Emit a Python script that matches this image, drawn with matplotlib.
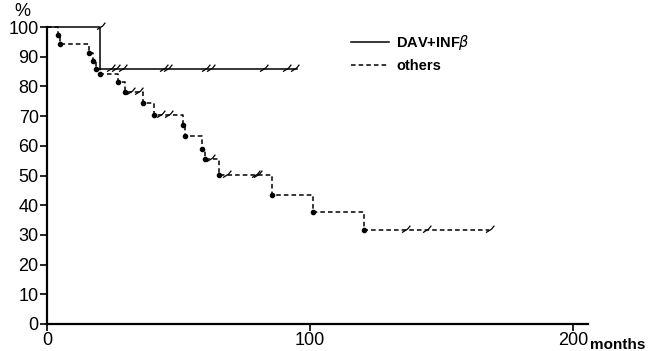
import matplotlib
matplotlib.use("Agg")
import matplotlib.pyplot as plt
from matplotlib.path import Path
from matplotlib.lines import Line2D
import numpy as np

plt.rcParams['font.family'] = ['Liberation Sans', 'DejaVu Sans']

# DAV+INFbeta group
dav_event_t = [20]
dav_event_s = [85.7]
dav_end = 95
dav_cens_t = [20, 24, 26, 28.5, 44, 45.5, 60, 62, 82, 91, 94]

# others group
oth_event_t = [4, 5, 16, 17.5, 18.6, 20, 27, 29.6, 36.5, 40.7, 51.7, 52.5,
               59, 60, 65.4, 85.5, 101, 120.5]
oth_event_s = [97.3, 94.3, 91.4, 88.6, 85.7, 84.3, 81.4, 78.1, 74.4, 70.4,
               66.9, 63.2, 59.0, 55.4, 50.3, 43.6, 37.8, 31.5]
oth_end = 168
oth_cens_t = [31.5, 34.6, 43, 46, 62, 68, 79, 80, 136, 144, 168]

yticks = [0, 10, 20, 30, 40, 50, 60, 70, 80, 90, 100]
xticks = [0, 100, 200]


def step_xy(ev_t, ev_s, end):
    xs = [0] + list(ev_t) + [end]
    ys = [100] + list(ev_s) + [ev_s[-1]]
    return xs, ys


def surv_at(t, ev_t, ev_s):
    s = 100
    for tt, ss in zip(ev_t, ev_s):
        if t > tt:
            s = ss
    return s


tick_marker = Path([(-0.5, -0.3), (0.3, 0.2), (0.7, 0.7)],
                   [Path.MOVETO, Path.LINETO, Path.LINETO])

fig = plt.figure(figsize=(6.53, 3.51), dpi=100)
ax = fig.add_axes([47 / 653, 27 / 351, 541 / 653, 297 / 351])

# solid curve
x, y = step_xy(dav_event_t, dav_event_s, dav_end)
ax.step(x, y, where='post', color='black', lw=1.1, clip_on=False)
cs = [surv_at(t, dav_event_t, dav_event_s) if t != 20 else 100 for t in dav_cens_t]
ax.plot(dav_cens_t, cs, ls='none', marker=tick_marker, ms=7, mew=0.9,
        mec='black', mfc='none', clip_on=False)

# dashed curve
x, y = step_xy(oth_event_t, oth_event_s, oth_end)
ax.step(x, y, where='post', color='black', lw=1.1, ls=(0, (3, 2)), clip_on=False)
ax.plot(oth_event_t, oth_event_s, ls='none', marker='o', ms=3, color='black',
        clip_on=False)
cs = [surv_at(t, oth_event_t, oth_event_s) for t in oth_cens_t]
ax.plot(oth_cens_t, cs, ls='none', marker=tick_marker, ms=7, mew=0.9,
        mec='black', mfc='none', clip_on=False)

ax.set_xlim(0, 205.7)
ax.set_ylim(0, 100)
ax.spines['top'].set_visible(False)
ax.spines['right'].set_visible(False)
ax.spines['left'].set_linewidth(1.6)
ax.spines['bottom'].set_linewidth(1.6)
ax.set_yticks(yticks)
ax.set_xticks(xticks)
ax.set_xticklabels(['0', '100', '200'])
ax.tick_params(axis='both', labelsize=13, length=5, width=1.2, pad=1)
fig.text(14 / 653, 1 - 3 / 351, '%', fontsize=13, va='top')
ax.text(1.003, -0.085, 'months', transform=ax.transAxes, fontsize=11,
        fontweight='bold')

handles = [Line2D([], [], color='black', lw=1.1),
           Line2D([], [], color='black', lw=1.1, ls=(0, (3, 2)))]
fig.legend(handles, ['DAV+INF$\\beta$', 'others'], loc='upper left',
           bbox_to_anchor=(338 / 653, 1 - 20 / 351), frameon=False,
           prop={'weight': 'bold', 'size': 10.5}, handlelength=2.6,
           handletextpad=0.5, labelspacing=0.45)

fig.savefig('out.png', dpi=100)
